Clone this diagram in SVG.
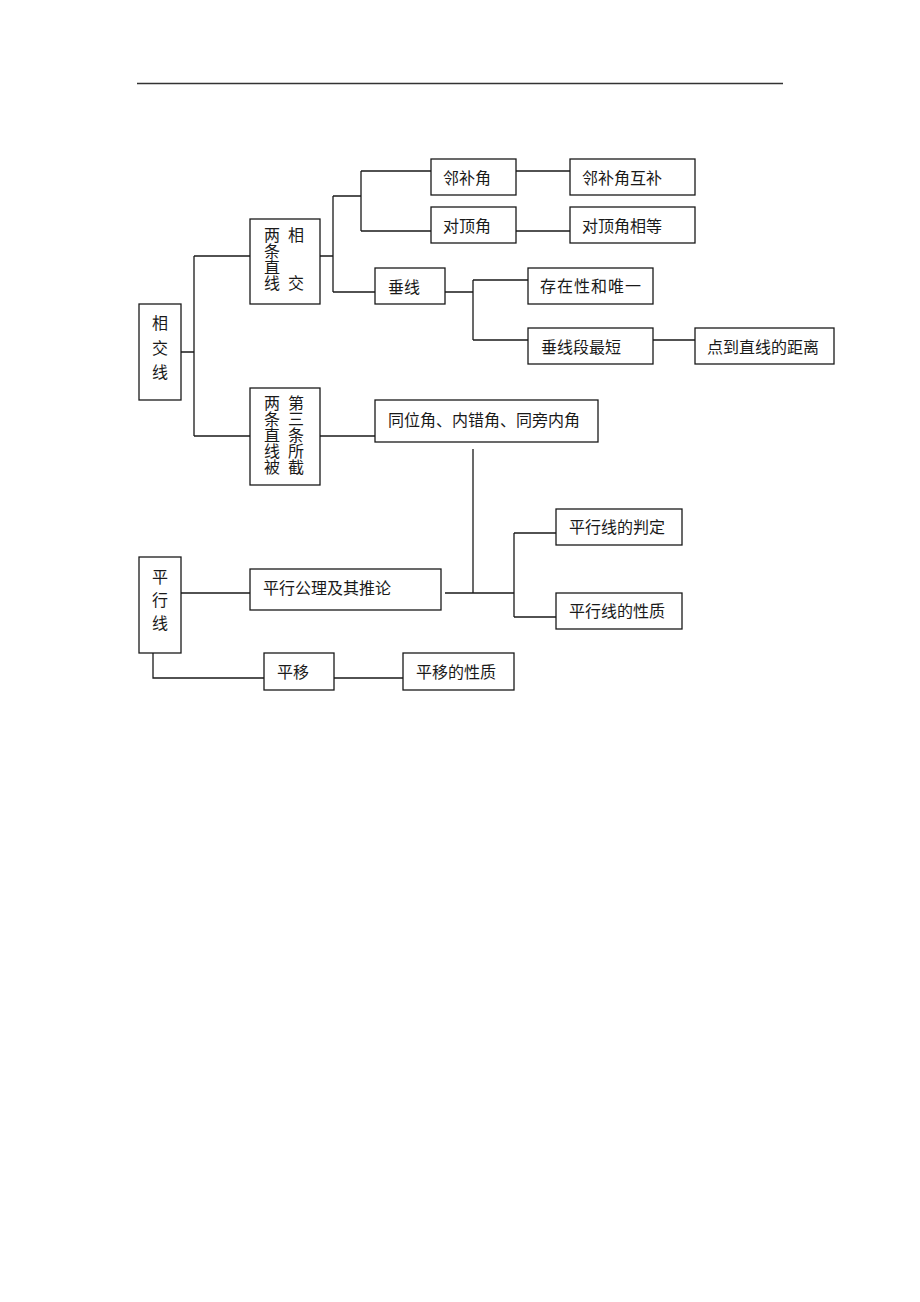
<svg xmlns="http://www.w3.org/2000/svg" width="920" height="1302" viewBox="0 0 920 1302">
<style>
.b{fill:#fff;stroke:#1a1a1a;stroke-width:1.3}
.c{fill:none;stroke:#1a1a1a;stroke-width:1.3}
text{font-family:"Liberation Serif","Noto Sans CJK SC",serif;font-size:16px;fill:#1a1a1a;dominant-baseline:central}
.m{text-anchor:middle}
</style>
<rect width="920" height="1302" fill="#fff"/>
<line x1="137" y1="83.5" x2="783" y2="83.5" stroke="#333" stroke-width="1.5"/>
<g id="connectors" class="c">
<path d="M181 352H194M194 256V436M194 256H250M194 436H250"/>
<path d="M320 256H333M333 196V292M333 196H361M333 292H375M361 171V231M361 171H431M361 231H431"/>
<path d="M516 171H570M516 231H570"/>
<path d="M445 292H473M473 280V340M473 280H528M473 340H528M653 340H695"/>
<path d="M320 436H375"/>
<path d="M181 593H250M445 593H514M473 449V593M514 533V617M514 533H556M514 617H556"/>
<path d="M153 653V678H264M334 678H403"/>
</g>
<g id="n_xjx"><rect class="b" x="139" y="304" width="42" height="96"/><text class="m" x="160" y="323">相</text><text class="m" x="160" y="348">交</text><text class="m" x="160" y="372">线</text></g>
<g id="n_xiangjiao"><rect class="b" x="250" y="219" width="70" height="85"/>
<text class="m" x="272" y="235">两</text><text class="m" x="272" y="251">条</text><text class="m" x="272" y="267">直</text><text class="m" x="272" y="283">线</text>
<text class="m" x="296" y="235">相</text><text class="m" x="296" y="283">交</text></g>
<g id="n_jie"><rect class="b" x="250" y="388" width="70" height="97"/>
<text class="m" x="272" y="403">两</text><text class="m" x="272" y="419">条</text><text class="m" x="272" y="435">直</text><text class="m" x="272" y="451">线</text><text class="m" x="272" y="467">被</text>
<text class="m" x="296" y="403">第</text><text class="m" x="296" y="419">三</text><text class="m" x="296" y="435">条</text><text class="m" x="296" y="451">所</text><text class="m" x="296" y="467">截</text></g>
<g id="n_lbj"><rect class="b" x="431" y="159" width="85" height="36"/><text x="443" y="178">邻补角</text></g>
<g id="n_lbjhb"><rect class="b" x="570" y="159" width="125" height="36"/><text x="582" y="178">邻补角互补</text></g>
<g id="n_ddj"><rect class="b" x="431" y="207" width="85" height="36"/><text x="443" y="226">对顶角</text></g>
<g id="n_ddjxd"><rect class="b" x="570" y="207" width="125" height="36"/><text x="582" y="226">对顶角相等</text></g>
<g id="n_cx"><rect class="b" x="375" y="268" width="70" height="36"/><text x="388" y="287">垂线</text></g>
<g id="n_czx"><rect class="b" x="528" y="268" width="125" height="36"/><text x="540" y="286" letter-spacing="1">存在性和唯一</text></g>
<g id="n_cxd"><rect class="b" x="528" y="328" width="125" height="36"/><text x="541" y="347">垂线段最短</text></g>
<g id="n_jl"><rect class="b" x="695" y="328" width="139" height="36"/><text x="707" y="347">点到直线的距离</text></g>
<g id="n_tw"><rect class="b" x="375" y="400" width="223" height="42"/><text x="388" y="420">同位角、内错角、同旁内角</text></g>
<g id="n_pxx"><rect class="b" x="139" y="557" width="42" height="96"/><text class="m" x="160" y="577">平</text><text class="m" x="160" y="600">行</text><text class="m" x="160" y="623">线</text></g>
<g id="n_gl"><rect class="b" x="250" y="569" width="191" height="41"/><text x="263" y="588">平行公理及其推论</text></g>
<g id="n_pd"><rect class="b" x="556" y="509" width="126" height="36"/><text x="569" y="527">平行线的判定</text></g>
<g id="n_xz"><rect class="b" x="556" y="593" width="126" height="36"/><text x="569" y="611">平行线的性质</text></g>
<g id="n_py"><rect class="b" x="264" y="653" width="70" height="37"/><text x="277" y="672">平移</text></g>
<g id="n_pyxz"><rect class="b" x="403" y="653" width="111" height="37"/><text x="416" y="672">平移的性质</text></g>
</svg>
